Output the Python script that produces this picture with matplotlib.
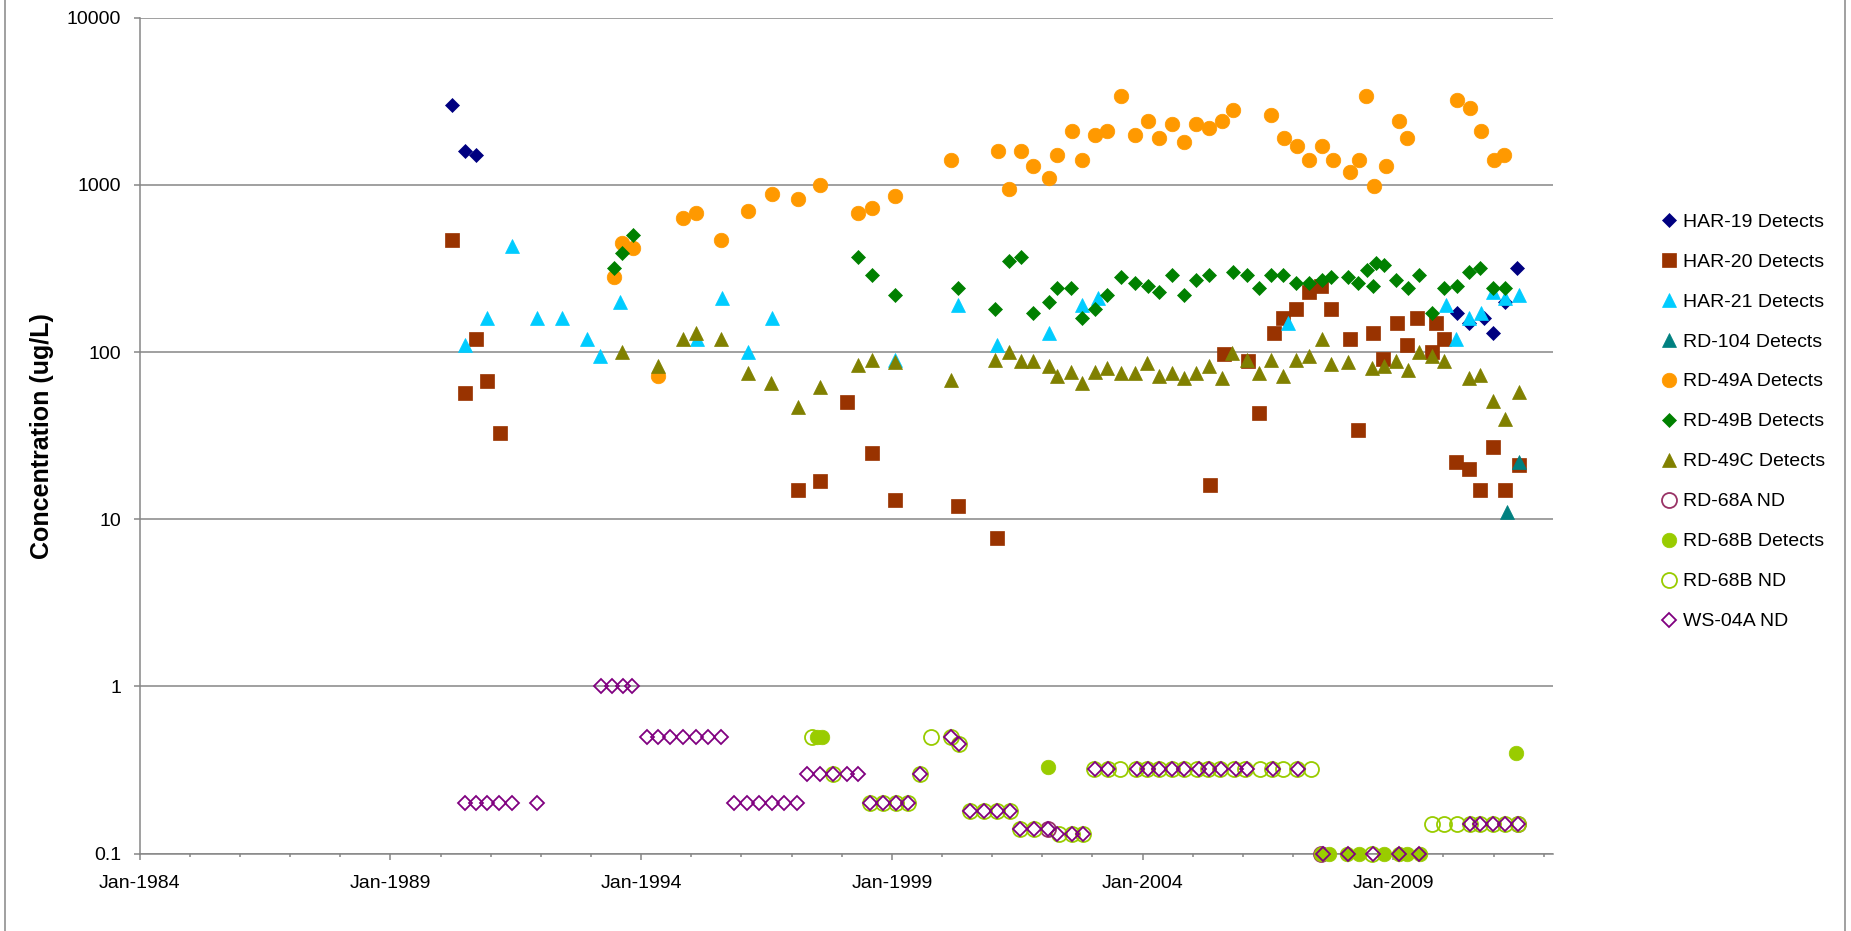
import matplotlib
matplotlib.use("Agg")
import matplotlib.pyplot as plt
from matplotlib.lines import Line2D
import numpy as np

plt.rcParams['font.family'] = ['Liberation Sans', 'DejaVu Sans']

# sample dates as decimal years, concentrations in ug/L
har19_x = [1990.22, 1990.48, 1990.70, 2010.28, 2010.52, 2010.80, 2010.99, 2011.22, 2011.47]
har19_y = [3000, 1600, 1500, 170, 150, 160, 130, 200, 320]

har20_x = [1990.22, 1990.48, 1990.70, 1990.92, 1991.18, 1997.13, 1997.56, 1998.10, 1998.60,
           1999.07, 2000.31, 2001.09, 2005.35, 2005.63, 2006.10, 2006.32, 2006.63, 2006.81,
           2007.07, 2007.31, 2007.56, 2007.76, 2008.14, 2008.30, 2008.59, 2008.79, 2009.07,
           2009.27, 2009.47, 2009.77, 2009.86, 2010.02, 2010.25, 2010.51, 2010.74, 2010.99,
           2011.22, 2011.51]
har20_y = [470, 57, 120, 67, 33, 15, 17, 50, 25,
           13, 12, 7.7, 16, 97, 88, 43, 130, 160,
           180, 230, 250, 180, 120, 34, 130, 91, 150,
           110, 160, 100, 150, 120, 22, 20, 15, 27,
           15, 21]

har21_x = [1990.48, 1990.92, 1991.42, 1991.93, 1992.42, 1992.92, 1993.18, 1993.58, 1995.12,
           1995.61, 1996.14, 1996.61, 1999.07, 2000.31, 2001.09, 2002.14, 2002.80, 2003.12,
           2006.91, 2010.06, 2010.25, 2010.52, 2010.76, 2010.99, 2011.22, 2011.51]
har21_y = [110, 160, 430, 160, 160, 120, 95, 200, 120,
           210, 100, 160, 90, 190, 110, 130, 190, 210,
           150, 190, 120, 160, 170, 230, 210, 220]

rd104_x = [2011.26, 2011.51]
rd104_y = [11, 22]

rd49a_x = [1993.45, 1993.62, 1993.83, 1994.33, 1994.83, 1995.10, 1995.60, 1996.13, 1996.61,
           1997.13, 1997.56, 1998.32, 1998.61, 1999.07, 2000.18, 2001.11, 2001.33, 2001.58,
           2001.81, 2002.14, 2002.30, 2002.59, 2002.80, 2003.06, 2003.30, 2003.57, 2003.85,
           2004.11, 2004.32, 2004.59, 2004.82, 2005.07, 2005.33, 2005.59, 2005.81, 2006.56,
           2006.82, 2007.08, 2007.32, 2007.58, 2007.79, 2008.13, 2008.31, 2008.46, 2008.61,
           2008.86, 2009.11, 2009.27, 2010.27, 2010.54, 2010.76, 2011.00, 2011.20]
rd49a_y = [280, 450, 420, 72, 630, 680, 470, 700, 880,
           820, 1000, 680, 730, 860, 1400, 1600, 950, 1600,
           1300, 1100, 1500, 2100, 1400, 2000, 2100, 3400, 2000,
           2400, 1900, 2300, 1800, 2300, 2200, 2400, 2800, 2600,
           1900, 1700, 1400, 1700, 1400, 1200, 1400, 3400, 990,
           1300, 2400, 1900, 3200, 2900, 2100, 1400, 1500]

rd49b_x = [1993.45, 1993.62, 1993.83, 1998.32, 1998.61, 1999.07, 2000.31, 2001.05, 2001.33,
           2001.58, 2001.81, 2002.14, 2002.30, 2002.58, 2002.80, 2003.05, 2003.30, 2003.57,
           2003.85, 2004.10, 2004.32, 2004.59, 2004.82, 2005.07, 2005.33, 2005.80, 2006.08,
           2006.32, 2006.57, 2006.81, 2007.06, 2007.31, 2007.58, 2007.76, 2008.10, 2008.29,
           2008.48, 2008.60, 2008.66, 2008.81, 2009.06, 2009.29, 2009.52, 2009.77, 2010.02,
           2010.27, 2010.52, 2010.74, 2010.99, 2011.22]
rd49b_y = [320, 390, 500, 370, 290, 220, 240, 180, 350,
           370, 170, 200, 240, 240, 160, 180, 220, 280,
           260, 250, 230, 290, 220, 270, 290, 300, 290,
           240, 290, 290, 260, 260, 270, 280, 280, 260,
           310, 250, 340, 330, 270, 240, 290, 170, 240,
           250, 300, 320, 240, 240]

rd49c_x = [1993.62, 1994.33, 1994.83, 1995.10, 1995.60, 1996.14, 1996.59, 1997.13, 1997.56,
           1998.32, 1998.61, 1999.07, 2000.18, 2001.05, 2001.33, 2001.58, 2001.81, 2002.14,
           2002.30, 2002.58, 2002.80, 2003.05, 2003.30, 2003.57, 2003.85, 2004.09, 2004.32,
           2004.59, 2004.82, 2005.07, 2005.33, 2005.59, 2005.79, 2006.08, 2006.32, 2006.57,
           2006.81, 2007.06, 2007.31, 2007.58, 2007.76, 2008.10, 2008.58, 2008.81, 2009.06,
           2009.29, 2009.52, 2009.77, 2010.02, 2010.52, 2010.74, 2010.99, 2011.22, 2011.51]
rd49c_y = [100, 82, 120, 130, 120, 75, 65, 47, 62,
           84, 90, 87, 68, 90, 100, 88, 88, 82,
           72, 76, 65, 76, 80, 75, 75, 86, 72,
           75, 70, 75, 82, 70, 98, 89, 75, 90,
           72, 90, 95, 120, 85, 87, 80, 82, 88,
           78, 100, 95, 88, 70, 73, 51, 40, 58]

rd68a_nd_x = [2002.12, 2007.56, 2011.48]
rd68a_nd_y = [0.14, 0.1, 0.15]

rd68b_x = [1997.50, 1997.60, 2002.12, 2007.56, 2007.72, 2008.08, 2008.31, 2008.81, 2009.11,
           2009.28, 2009.54, 2011.45]
rd68b_y = [0.5, 0.5, 0.33, 0.1, 0.1, 0.1, 0.1, 0.1, 0.1,
           0.1, 0.1, 0.4]

rd68b_nd_x = [1997.40, 1999.79, 2000.18, 2000.33, 1997.82, 1999.57,
              1998.57, 1998.83, 1999.09, 1999.33,
              2000.56, 2000.83, 2001.10, 2001.35,
              2001.56, 2001.83,
              2002.33, 2002.59, 2002.82,
              2003.03, 2003.31, 2003.55, 2003.87, 2004.09, 2004.32, 2004.59, 2004.82, 2005.09,
              2005.30, 2005.54, 2005.83, 2006.05, 2006.35, 2006.58, 2006.81, 2007.09, 2007.36,
              2008.58,
              2009.77, 2010.02, 2010.27, 2010.53, 2010.74, 2010.99, 2011.22, 2011.48]
rd68b_nd_y = [0.5, 0.5, 0.5, 0.45, 0.3, 0.3,
              0.2, 0.2, 0.2, 0.2,
              0.18, 0.18, 0.18, 0.18,
              0.14, 0.14,
              0.13, 0.13, 0.13,
              0.32, 0.32, 0.32, 0.32, 0.32, 0.32, 0.32, 0.32, 0.32,
              0.32, 0.32, 0.32, 0.32, 0.32, 0.32, 0.32, 0.32, 0.32,
              0.1,
              0.15, 0.15, 0.15, 0.15, 0.15, 0.15, 0.15, 0.15]

ws04a_nd_x = [1990.48, 1990.71, 1990.92, 1991.17, 1991.42, 1991.93,
              1993.19, 1993.42, 1993.64, 1993.82,
              1994.11, 1994.34, 1994.58, 1994.83, 1995.10, 1995.34, 1995.60,
              1995.85, 1996.12, 1996.36, 1996.61, 1996.85, 1997.10,
              1997.31, 1997.56, 1997.82, 1998.10, 1998.33,
              1998.57, 1998.83, 1999.09, 1999.33,
              1999.57, 2000.18, 2000.33,
              2000.56, 2000.83, 2001.10, 2001.35,
              2001.56, 2001.83, 2002.12,
              2002.30, 2002.59, 2002.82,
              2003.06, 2003.31, 2003.88, 2004.10, 2004.33, 2004.58, 2004.83, 2005.12, 2005.32,
              2005.57, 2005.86, 2006.08, 2006.60, 2007.10,
              2007.59, 2008.09, 2008.59, 2009.11, 2009.52,
              2010.53, 2010.74, 2010.99, 2011.22, 2011.48]
ws04a_nd_y = [0.2, 0.2, 0.2, 0.2, 0.2, 0.2,
              1, 1, 1, 1,
              0.5, 0.5, 0.5, 0.5, 0.5, 0.5, 0.5,
              0.2, 0.2, 0.2, 0.2, 0.2, 0.2,
              0.3, 0.3, 0.3, 0.3, 0.3,
              0.2, 0.2, 0.2, 0.2,
              0.3, 0.5, 0.45,
              0.18, 0.18, 0.18, 0.18,
              0.14, 0.14, 0.14,
              0.13, 0.13, 0.13,
              0.32, 0.32, 0.32, 0.32, 0.32, 0.32, 0.32, 0.32, 0.32,
              0.32, 0.32, 0.32, 0.32, 0.32,
              0.1, 0.1, 0.1, 0.1, 0.1,
              0.15, 0.15, 0.15, 0.15, 0.15]

major_years = [1984, 1989, 1994, 1999, 2004, 2009]
y_ticks = [0.1, 1, 10, 100, 1000, 10000]
y_ticklabels = ['0.1', '1', '10', '100', '1000', '10000']

W, H = 1851, 931
fig = plt.figure(figsize=(W / 100, H / 100), dpi=100)
ax = fig.add_axes([139.7 / W, 1 - 853.5 / H, (1552.7 - 139.7) / W, (853.5 - 17.7) / H])

grey = '#868686'

# (label, x, y, marker, size, face, edge, edge width)
series = [
    ('HAR-19 Detects', har19_x, har19_y, 'D', 7.0, '#000080', '#000080', 0.5),
    ('HAR-20 Detects', har20_x, har20_y, 's', 10.2, '#993300', '#993300', 0.5),
    ('HAR-21 Detects', har21_x, har21_y, '^', 10.5, '#00CCFF', '#00CCFF', 0.5),
    ('RD-104 Detects', rd104_x, rd104_y, '^', 10.5, '#008080', '#008080', 0.5),
    ('RD-49A Detects', rd49a_x, rd49a_y, 'o', 10.5, '#FF9900', '#FF9900', 0.5),
    ('RD-49B Detects', rd49b_x, rd49b_y, 'D', 7.0, '#008000', '#008000', 0.5),
    ('RD-49C Detects', rd49c_x, rd49c_y, '^', 10.5, '#808000', '#808000', 0.5),
    ('RD-68A ND', rd68a_nd_x, rd68a_nd_y, 'o', 10.8, 'none', '#993366', 1.3),
    ('RD-68B Detects', rd68b_x, rd68b_y, 'o', 10.5, '#99CC00', '#99CC00', 0.5),
    ('RD-68B ND', rd68b_nd_x, rd68b_nd_y, 'o', 10.8, 'none', '#99CC00', 1.3),
    ('WS-04A ND', ws04a_nd_x, ws04a_nd_y, 'D', 7.6, 'none', '#800080', 1.3),
]

handles = []
for i, (lab, xs, ys, mk, ms, fc, ec, mew) in enumerate(series):
    h, = ax.plot(xs, ys, linestyle='none', marker=mk, markersize=ms,
                 markerfacecolor=fc, markeredgecolor=ec, markeredgewidth=mew,
                 label=lab, zorder=3 + i * 0.01, clip_on=False)
    handles.append(h)

ax.set_yscale('log')
ax.set_ylim(0.1, 10000)
ax.set_xlim(1984, 2012.18)
ax.set_yticks(y_ticks)
ax.set_yticklabels(y_ticklabels)
ax.yaxis.set_minor_locator(matplotlib.ticker.NullLocator())
ax.set_xticks(major_years)
ax.set_xticklabels(['Jan-%d' % y for y in major_years])
ax.set_xticks(np.arange(1984, 2013), minor=True)

ax.grid(axis='y', which='major', color=grey, linewidth=1.1, zorder=0)
ax.set_axisbelow(True)
for s in ['top', 'right']:
    ax.spines[s].set_visible(False)
for s in ['left', 'bottom']:
    ax.spines[s].set_color(grey)
    ax.spines[s].set_linewidth(1.1)

ax.tick_params(axis='y', which='major', length=4.5, width=1.1, color=grey,
               labelsize=14, pad=9)
ax.tick_params(axis='x', which='major', length=4.5, width=1.1, color=grey,
               labelsize=14, pad=11)
ax.tick_params(axis='x', which='minor', length=2.5, width=1.1, color=grey)

fig.text(42.5 / W, 1 - 435.6 / H, 'Concentration (ug/L)', rotation=90,
         ha='center', va='center', fontsize=18, fontweight='bold')

fig.legend(handles=handles, loc='upper left', bbox_to_anchor=(1659.6 / W, 1 - 213 / H),
           frameon=False, fontsize=14, handlelength=1.0, handletextpad=0.19,
           borderpad=0, borderaxespad=0, labelspacing=1.15, markerscale=1.0)

# outer chart frame
fig.add_artist(Line2D([5 / W, 5 / W], [0, 1], color=grey, linewidth=1.1))
fig.add_artist(Line2D([1845 / W, 1845 / W], [0, 1], color=grey, linewidth=1.1))

fig.savefig('out.png', dpi=100)
